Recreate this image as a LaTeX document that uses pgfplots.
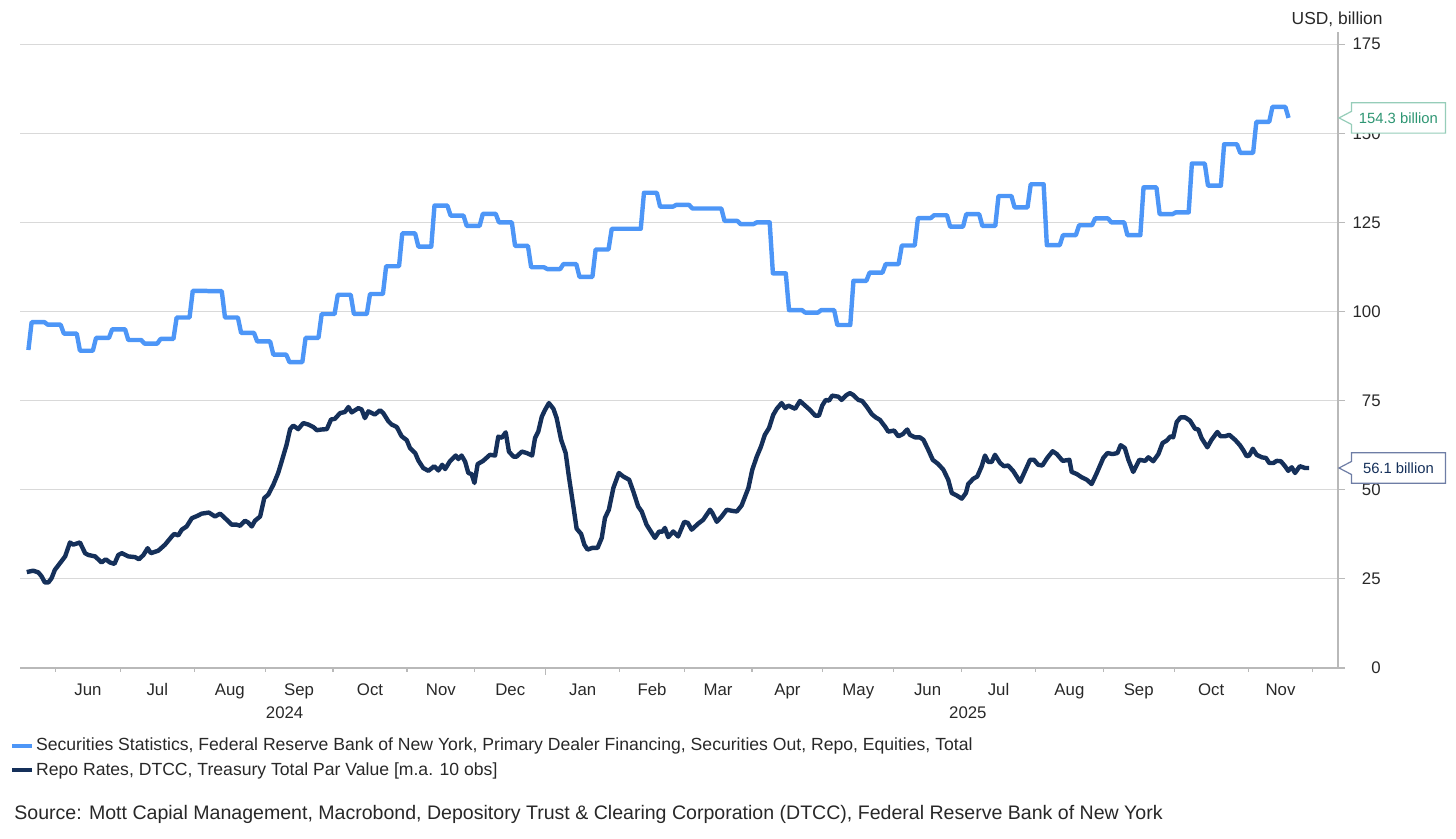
\documentclass[border=0pt]{standalone}
\usepackage{pgfplots}
\pgfplotsset{compat=1.18}
\usepackage{pgfplotstable}
\usepackage{fontspec}
\setmainfont{Liberation Sans}

\definecolor{secblue}{RGB}{77,150,247}
\definecolor{reponavy}{RGB}{21,48,90}
\definecolor{gridgray}{RGB}{217,217,217}
\definecolor{axisgray}{RGB}{185,185,185}
\definecolor{txt}{RGB}{40,40,40}
\definecolor{tealtxt}{RGB}{46,150,115}
\definecolor{tealbox}{RGB}{150,205,185}
\definecolor{navybox}{RGB}{110,125,165}

% x = weekday index, 0 = Mon 3 Jun 2024
% weekly series: flat for the week, one-day move to the next value
\pgfplotstableread{
x y
-8.5 89.2
-7.5 97.0
-3.5 97.0
-2.5 96.3
1.5 96.3
2.5 93.8
6.5 93.8
7.5 89.0
11.5 89.0
12.5 92.6
16.5 92.6
17.5 95.0
21.5 95.0
22.5 92.0
26.5 92.0
27.5 91.0
31.5 91.0
32.5 92.3
36.5 92.3
37.5 98.3
41.5 98.3
42.5 105.8
46.5 105.8
47.5 105.7
51.5 105.7
52.5 98.3
56.5 98.3
57.5 94.0
61.5 94.0
62.5 91.6
66.5 91.6
67.5 87.9
71.5 87.9
72.5 85.8
76.5 85.8
77.5 92.6
81.5 92.6
82.5 99.3
86.5 99.3
87.5 104.7
91.5 104.7
92.5 99.3
96.5 99.3
97.5 104.9
101.5 104.9
102.5 112.7
106.5 112.7
107.5 121.9
111.5 121.9
112.5 118.2
116.5 118.2
117.5 129.7
121.5 129.7
122.5 126.9
126.5 126.9
127.5 124.0
131.5 124.0
132.5 127.4
136.5 127.4
137.5 125.0
141.5 125.0
142.5 118.4
146.5 118.4
147.5 112.4
151.5 112.4
152.5 111.9
156.5 111.9
157.5 113.3
161.5 113.3
162.5 109.7
166.5 109.7
167.5 117.4
171.5 117.4
172.5 123.2
176.5 123.2
177.5 123.2
181.5 123.2
182.5 133.3
186.5 133.3
187.5 129.4
191.5 129.4
192.5 129.9
196.5 129.9
197.5 128.9
201.5 128.9
202.5 128.9
206.5 128.9
207.5 125.4
211.5 125.4
212.5 124.5
216.5 124.5
217.5 125.0
221.5 125.0
222.5 110.7
226.5 110.7
227.5 100.4
231.5 100.4
232.5 99.7
236.5 99.7
237.5 100.4
241.5 100.4
242.5 96.2
246.5 96.2
247.5 108.6
251.5 108.6
252.5 110.9
256.5 110.9
257.5 113.3
261.5 113.3
262.5 118.5
266.5 118.5
267.5 126.2
271.5 126.2
272.5 127.0
276.5 127.0
277.5 123.8
281.5 123.8
282.5 127.3
286.5 127.3
287.5 124.0
291.5 124.0
292.5 132.4
296.5 132.4
297.5 129.2
301.5 129.2
302.5 135.7
306.5 135.7
307.5 118.6
311.5 118.6
312.5 121.4
316.5 121.4
317.5 124.2
321.5 124.2
322.5 126.1
326.5 126.1
327.5 125.0
331.5 125.0
332.5 121.4
336.5 121.4
337.5 134.8
341.5 134.8
342.5 127.3
346.5 127.3
347.5 127.8
351.5 127.8
352.5 141.5
356.5 141.5
357.5 135.3
361.5 135.3
362.5 146.9
366.5 146.9
367.5 144.5
371.5 144.5
372.5 153.2
376.5 153.2
377.5 157.4
381.5 157.4
382.5 154.3
}\secdata

% daily series, 10-observation moving average
\pgfplotstableread{
x y
-9.0 26.9
-7.0 27.3
-5.4 26.8
-4.4 25.7
-3.4 24.0
-2.3 24.0
-1.3 25.2
-0.3 27.5
1.3 29.4
2.9 31.3
4.4 35.2
5.4 34.6
7.5 35.2
9.1 32.2
10.1 31.7
12.2 31.3
14.2 29.6
15.5 30.5
16.8 29.6
18.2 29.2
19.4 31.7
20.5 32.2
22.5 31.3
24.6 31.1
25.8 30.5
27.2 31.7
28.5 33.6
29.5 32.2
31.8 32.9
33.9 34.6
36.0 36.9
36.8 37.6
38.0 37.2
39.1 38.8
40.6 39.7
42.2 42.0
44.0 42.7
45.3 43.3
47.5 43.6
49.4 42.5
51.0 43.3
53.0 41.6
54.6 40.2
56.1 40.2
57.2 39.9
58.7 41.3
59.7 40.8
60.8 39.7
61.8 41.3
63.4 42.5
64.7 47.7
65.9 48.6
67.5 51.4
69.0 54.7
70.1 58.0
71.6 62.6
72.7 67.0
73.7 68.0
75.2 67.0
76.8 68.7
78.3 68.3
79.9 67.6
81.0 66.7
82.5 66.9
84.1 67.0
85.4 69.7
86.6 69.9
88.2 71.5
89.7 71.8
90.8 73.2
91.8 71.7
93.9 72.9
94.9 72.5
95.9 70.1
97.0 72.0
99.0 71.1
100.6 72.3
101.6 71.5
103.2 69.2
104.2 68.3
105.8 67.6
107.3 65.0
108.9 63.9
109.9 61.7
111.5 60.3
112.5 58.2
114.0 56.1
115.6 55.3
117.4 56.6
118.7 55.4
119.9 57.0
120.8 55.8
122.3 58.0
124.1 59.6
124.9 58.6
125.9 59.6
127.0 57.9
128.0 54.7
129.0 54.4
129.9 51.9
130.9 57.2
132.6 58.1
134.7 59.8
136.3 59.6
137.3 64.9
138.4 64.6
139.6 66.1
140.6 60.7
142.0 59.3
143.0 59.3
144.6 60.7
146.1 60.3
147.8 59.6
148.7 64.5
149.7 66.3
150.8 70.5
151.8 72.4
153.0 74.3
154.4 72.7
155.4 70.1
156.8 64.0
158.2 60.3
159.2 53.7
160.6 45.3
161.6 39.1
163.0 37.6
164.0 34.6
165.0 33.2
166.5 33.7
168.1 33.7
169.4 36.5
170.4 42.1
171.6 44.4
173.0 50.5
174.7 54.7
176.1 53.7
177.9 52.8
179.2 49.5
180.7 45.3
181.8 43.9
183.3 40.2
184.9 37.9
185.9 36.5
187.2 38.3
188.2 38.2
189.0 39.3
190.0 36.7
191.6 38.3
193.1 36.9
195.0 41.0
196.1 40.7
197.3 38.8
199.2 40.4
200.9 41.6
203.0 44.4
203.7 43.5
205.1 41.0
206.6 42.5
208.2 44.4
209.7 44.1
211.3 43.9
212.8 45.6
214.9 50.5
216.1 55.6
217.5 59.3
218.8 62.1
220.0 65.4
221.3 67.3
222.6 71.0
223.7 72.7
225.2 74.3
226.3 72.9
227.3 73.6
229.4 72.7
230.9 74.9
232.5 73.6
234.0 72.4
235.6 70.8
236.8 70.8
237.8 73.6
238.9 75.2
239.9 75.0
240.9 76.4
242.8 76.1
243.8 75.2
245.4 76.6
246.4 77.1
247.4 76.6
249.0 75.2
250.2 74.9
251.6 73.3
253.2 71.2
254.4 70.3
255.7 69.6
257.3 67.7
258.3 66.3
260.1 66.6
261.4 65.0
262.8 65.6
264.2 66.9
265.0 65.4
266.6 64.7
268.1 64.7
269.2 64.0
270.7 61.2
272.1 58.4
273.8 57.2
275.4 55.6
276.9 52.8
278.0 49.1
279.5 48.4
281.1 47.5
282.4 49.1
283.1 51.6
284.7 53.1
285.9 53.7
287.3 56.6
288.3 59.6
289.3 57.8
290.4 57.8
291.4 59.8
293.0 57.5
294.2 56.6
295.5 56.8
297.1 55.2
299.2 52.2
300.7 55.2
302.3 58.4
303.5 58.4
304.8 57.0
306.1 56.8
307.6 58.9
309.3 60.8
310.6 60.0
312.4 58.1
314.5 58.4
315.2 55.0
316.8 54.4
318.3 53.5
319.9 52.8
321.4 51.6
323.0 54.7
325.0 58.9
326.3 60.3
327.9 60.0
329.4 60.3
330.4 62.5
331.7 61.7
332.8 58.4
334.3 55.0
336.2 58.4
338.0 58.1
339.0 59.1
340.5 58.0
342.1 60.0
343.4 63.1
344.7 63.8
345.9 65.0
346.7 64.7
347.8 69.0
349.0 70.3
350.4 70.3
351.9 69.4
353.5 67.1
354.5 66.9
355.5 64.5
357.3 61.9
358.6 64.0
360.4 66.2
361.4 65.0
362.8 65.0
364.1 65.4
365.9 64.0
367.4 62.5
368.5 61.0
369.5 59.4
370.3 59.6
371.4 61.5
372.6 59.8
374.2 59.1
375.5 58.9
376.5 57.5
377.8 57.5
378.8 58.1
380.1 58.0
381.4 56.6
382.4 55.3
383.5 56.3
384.5 54.7
386.0 56.6
387.6 56.1
388.9 56.1
}\repodata

\begin{document}
\begin{tikzpicture}
\useasboundingbox (0,0) rectangle (728pt,419.5pt);
\begin{axis}[
  at={(10.25pt,85.5pt)}, anchor=south west,
  scale only axis, width=658.75pt, height=318pt,
  xmin=-10.95, xmax=397.84, ymin=0, ymax=178.4,
  axis x line*=bottom, axis y line*=right,
  axis line style={draw=axisgray, line width=0.6pt},
  ytick={0,25,...,175},
  ymajorgrids, grid style={gridgray, line width=0.6pt},
  xtick={152}, xticklabels={},
  minor xtick={0,20,43,65,86,109,130,175,195,216,238,260,281,304,325,347,370,390},
  tick align=outside,
  major tick length=3.5pt, minor tick length=2pt,
  tick style={axisgray, line width=0.6pt},
  extra x ticks={10,31.5,54,75.5,97.5,119.5,141,163.5,185,205.5,227,249,270.5,292.5,314.5,336,358.5,380},
  extra x tick labels={Jun,Jul,Aug,Sep,Oct,Nov,Dec,Jan,Feb,Mar,Apr,May,Jun,Jul,Aug,Sep,Oct,Nov},
  extra x tick style={major tick length=0pt},
  ticklabel style={font=\fontsize{8.4}{10}\selectfont, text=txt},
  xticklabel style={yshift=-4.3pt},
  yticklabel style={anchor=east, inner sep=0pt, xshift=18pt},
  /pgf/number format/assume math mode=true,
  clip=false,
  legend style={at={(-0.0082,-0.1030)}, anchor=north west, draw=none, fill=none,
    font=\fontsize{8.8}{10.5}\selectfont, text=txt, inner sep=0pt, row sep=0.3pt,
    nodes={inner xsep=1pt}},
  legend cell align=left,
  legend image code/.code={\draw[#1, line width=2pt] (0pt,0pt) -- (10pt,0pt);},
]
\addplot[secblue, line width=2.2pt, line join=round] table[x=x, y=y] {\secdata};
\addlegendentry{Securities Statistics, Federal Reserve Bank of New York, Primary Dealer Financing, Securities Out, Repo, Equities, Total}
\addplot[reponavy, line width=2.2pt, line join=round] table[x=x, y=y] {\repodata};
\addlegendentry{Repo Rates, DTCC, Treasury Total Par Value [m.a. 10 obs]}
\coordinate (c1) at (axis cs:397.84,154.3);
\coordinate (c2) at (axis cs:397.84,56.1);
\node[font=\fontsize{8.4}{10}\selectfont, text=txt, yshift=-22.3pt] at (axis cs:71,0) {2024};
\node[font=\fontsize{8.4}{10}\selectfont, text=txt, yshift=-22.3pt] at (axis cs:283,0) {2025};
\end{axis}
\draw[tealbox, line width=0.6pt, fill=white] ([xshift=0.5pt]c1) -- ++(6.2pt,3.25pt) -- ++(0pt,4.35pt) -- ++(47pt,0pt) -- ++(0pt,-15.2pt) -- ++(-47pt,0pt) -- ++(0pt,4.35pt) -- cycle;
\node[text=tealtxt, font=\fontsize{7.4}{9}\selectfont] at ([xshift=30.2pt]c1) {154.3 billion};
\draw[navybox, line width=0.6pt, fill=white] ([xshift=0.5pt]c2) -- ++(6.2pt,3.25pt) -- ++(0pt,4.35pt) -- ++(47pt,0pt) -- ++(0pt,-15.2pt) -- ++(-47pt,0pt) -- ++(0pt,4.35pt) -- cycle;
\node[text=reponavy, font=\fontsize{7.4}{9}\selectfont] at ([xshift=30.2pt]c2) {56.1 billion};
\node[anchor=east, inner sep=0pt, text=txt, font=\fontsize{8.7}{10}\selectfont] at (691.5pt,410pt) {USD, billion};
\node[anchor=west, inner sep=0pt, text=txt, font=\fontsize{9.78}{12}\selectfont] at (7pt,12.3pt) {Source: Mott Capial Management, Macrobond, Depository Trust \& Clearing Corporation (DTCC), Federal Reserve Bank of New York};
\end{tikzpicture}
\end{document}
